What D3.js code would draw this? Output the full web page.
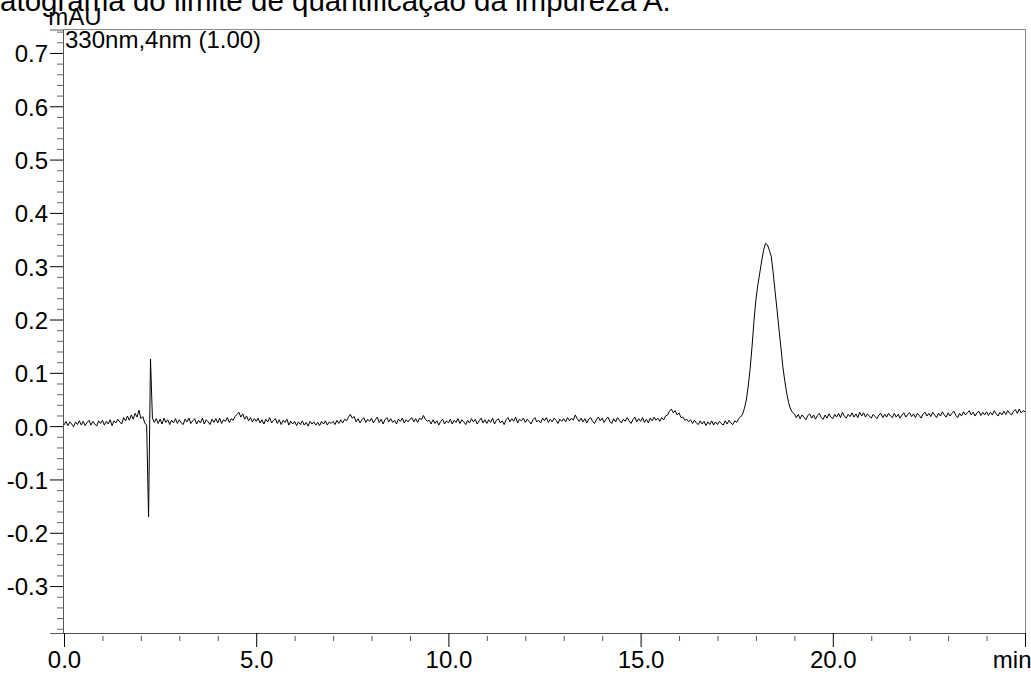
<!DOCTYPE html>
<html>
<head>
<meta charset="utf-8">
<script src="https://cdn.jsdelivr.net/npm/d3@7"></script>
<style>
  body { margin: 0; background: #fff; }
  svg { display: block; }
  text { font-family: "Liberation Sans", Arial, Helvetica, sans-serif; fill: #000; }
</style>
</head>
<body>
<svg id="chart" width="1031" height="675"></svg>
<script>
// Chromatogram: impurity A at its limit of quantification, 330 nm detection
const titleText = "Cromatograma do limite de quantificação da impureza A.";
const yUnitLabel = "mAU";
const xUnitLabel = "min";
const channelLabel = "330nm,4nm (1.00)";

const xMajorTicks = [0, 5, 10, 15, 20, 25];
const yMajorTicks = [-0.3, -0.2, -0.1, 0.0, 0.1, 0.2, 0.3, 0.4, 0.5, 0.6, 0.7];

// detector sampling: one reading every 0.05 min starting at 0.00 min
const sampleStart = 0;
const sampleStep = 0.05;

// absorbance readings (mAU), 0.00 – 25.00 min, ten readings per row
const absorbance = [
  0.002,0.009,0.001,0.008,0.004,-0.001,0.008,0.003,0.010,0.002,
  0.009,0.001,0.007,0.011,0.002,0.009,0.004,0.000,0.010,0.005,
  0.011,0.002,0.009,0.004,0.012,0.001,0.010,0.006,0.013,0.008,
  0.004,0.016,0.010,0.019,0.011,0.021,0.013,0.024,0.017,0.030,
  0.014,0.018,0.006,0.002,-0.170,0.126,0.015,0.007,0.014,0.005,
  0.013,0.004,0.015,0.007,0.012,0.003,0.011,0.006,0.014,0.005,
  0.012,0.006,0.003,0.013,0.008,0.015,0.005,0.010,0.014,0.004,
  0.011,0.006,0.015,0.004,0.012,0.008,0.003,0.013,0.007,0.014,
  0.006,0.015,0.005,0.012,0.009,0.016,0.007,0.014,0.011,0.018,
  0.022,0.026,0.017,0.023,0.013,0.019,0.010,0.016,0.008,0.014,
  0.009,0.015,0.006,0.012,0.004,0.013,0.008,0.016,0.006,0.011,
  0.014,0.005,0.012,0.003,0.011,0.007,0.013,0.002,0.009,0.004,
  0.009,0.001,0.008,0.003,0.010,0.002,0.007,0.000,0.009,0.004,
  0.008,0.002,0.007,0.001,0.009,0.004,0.010,0.002,0.008,0.005,
  0.009,0.003,0.011,0.005,0.012,0.006,0.013,0.010,0.017,0.022,
  0.015,0.018,0.008,0.014,0.006,0.012,0.016,0.007,0.013,0.009,
  0.015,0.006,0.012,0.017,0.007,0.013,0.004,0.012,0.016,0.008,
  0.014,0.007,0.011,0.004,0.013,0.009,0.015,0.006,0.012,0.008,
  0.013,0.016,0.008,0.014,0.007,0.015,0.012,0.020,0.013,0.009,
  0.011,0.004,0.012,0.005,0.010,0.002,0.009,0.013,0.004,0.010,
  0.006,0.013,0.004,0.011,0.007,0.014,0.005,0.012,0.008,0.003,
  0.011,0.006,0.014,0.008,0.013,0.004,0.010,0.015,0.006,0.012,
  0.005,0.012,0.007,0.015,0.004,0.011,0.014,0.006,0.010,0.003,
  0.012,0.016,0.008,0.014,0.009,0.017,0.006,0.013,0.010,0.015,
  0.007,0.013,0.009,0.004,0.012,0.016,0.008,0.011,0.006,0.015,
  0.010,0.016,0.007,0.013,0.008,0.015,0.011,0.005,0.013,0.009,
  0.014,0.008,0.016,0.010,0.015,0.011,0.021,0.014,0.009,0.015,
  0.008,0.014,0.006,0.013,0.016,0.009,0.005,0.012,0.017,0.010,
  0.015,0.007,0.013,0.017,0.009,0.005,0.014,0.008,0.016,0.011,
  0.006,0.013,0.009,0.016,0.010,0.005,0.012,0.017,0.008,0.014,
  0.009,0.016,0.007,0.013,0.006,0.015,0.010,0.017,0.011,0.015,
  0.009,0.016,0.012,0.019,0.021,0.028,0.032,0.025,0.029,0.021,
  0.025,0.016,0.017,0.011,0.013,0.008,0.012,0.005,0.011,0.006,
  0.003,0.010,0.004,0.009,0.001,0.008,0.003,0.010,0.002,0.008,
  0.003,0.009,0.005,0.002,0.010,0.004,0.011,0.006,0.003,0.010,
  0.007,0.014,0.017,0.022,0.033,0.049,0.075,0.108,0.150,0.198,
  0.237,0.265,0.287,0.310,0.330,0.343,0.340,0.330,0.318,0.287,
  0.252,0.218,0.182,0.148,0.112,0.085,0.062,0.044,0.032,0.026,
  0.023,0.016,0.022,0.014,0.021,0.017,0.012,0.020,0.023,0.015,
  0.021,0.013,0.020,0.024,0.016,0.013,0.021,0.015,0.023,0.017,
  0.014,0.022,0.017,0.024,0.016,0.026,0.019,0.015,0.022,0.018,
  0.025,0.017,0.023,0.016,0.026,0.019,0.025,0.017,0.023,0.019,
  0.015,0.022,0.018,0.014,0.021,0.024,0.016,0.022,0.017,0.024,
  0.019,0.016,0.024,0.017,0.022,0.015,0.021,0.025,0.017,0.022,
  0.025,0.018,0.023,0.016,0.024,0.020,0.015,0.023,0.026,0.019,
  0.024,0.018,0.026,0.021,0.016,0.024,0.019,0.027,0.021,0.017,
  0.025,0.019,0.024,0.028,0.020,0.016,0.024,0.019,0.027,0.021,
  0.025,0.029,0.021,0.026,0.019,0.025,0.028,0.020,0.026,0.021,
  0.027,0.020,0.026,0.021,0.029,0.023,0.019,0.026,0.021,0.028,
  0.022,0.029,0.024,0.021,0.028,0.031,0.024,0.032,0.025,0.029,
  0.027
];

const series = absorbance.map((v, i) => ({ t: sampleStart + i * sampleStep, v }));

const svg = d3.select("#chart");
const fontSize = 24;

const plot = { left: 63, top: 29, right: 1025, bottom: 633 };

const x = d3.scaleLinear().domain([0, 25]).range([plot.left + 1, plot.right]);
const y = d3.scaleLinear().domain([-0.388, 0.744]).range([plot.bottom, plot.top + 0.5]);

// title (runs off the left edge of the page)
svg.append("text")
  .attr("x", -72).attr("y", 11)
  .style("font-size", "29.5px")
  .text(titleText);

// frame
svg.append("rect")
  .attr("x", plot.left + 0.5).attr("y", plot.top + 0.5)
  .attr("width", plot.right - plot.left).attr("height", plot.bottom - plot.top)
  .attr("fill", "none").attr("stroke", "#8a8a8a").attr("stroke-width", 1);

// x axis: minor ticks every minute
const xMinor = svg.append("g")
  .attr("transform", `translate(0,${plot.bottom})`)
  .call(d3.axisBottom(x).tickValues(d3.range(0, 26, 1).filter(d => d % 5 !== 0))
    .tickSize(8).tickFormat(""));
xMinor.select(".domain").remove();
xMinor.selectAll(".tick line").attr("y1", 3).attr("stroke", "#555");

// x axis: major ticks with labels
const xMajor = svg.append("g")
  .attr("transform", `translate(0,${plot.bottom})`)
  .call(d3.axisBottom(x).tickValues(xMajorTicks).tickSize(14).tickPadding(4)
    .tickFormat(d => d === 25 ? xUnitLabel : d.toFixed(1)));
xMajor.select(".domain").attr("stroke", "#555");
xMajor.selectAll(".tick line").attr("stroke", "#000");
xMajor.selectAll(".tick text").style("font-size", fontSize + "px")
  .attr("font-family", null);
xMajor.selectAll(".tick").filter(d => d === 25).select("text")
  .attr("text-anchor", "end").attr("x", 6);

// y axis: minor ticks every 0.02
const yMinor = svg.append("g")
  .attr("transform", `translate(${plot.left},0)`)
  .call(d3.axisLeft(y).tickValues(d3.range(-19, 38, 1).map(k => k * 0.02).filter(d => Math.abs(Math.round(d * 50)) % 5 !== 0))
    .tickSize(6).tickFormat(""));
yMinor.select(".domain").remove();
yMinor.selectAll(".tick line").attr("stroke", "#666");

// y axis: major ticks with labels
const yMajor = svg.append("g")
  .attr("transform", `translate(${plot.left},0)`)
  .call(d3.axisLeft(y).tickValues(yMajorTicks).tickSize(13).tickPadding(2)
    .tickFormat(d => d.toFixed(1)));
yMajor.select(".domain").attr("stroke", "#555");
yMajor.selectAll(".tick line").attr("stroke", "#000");
yMajor.selectAll(".tick text").style("font-size", fontSize + "px")
  .attr("font-family", null).attr("dy", "0.37em");

// unit and channel labels
svg.append("text")
  .attr("x", 75).attr("y", 25).attr("text-anchor", "middle")
  .style("font-size", fontSize + "px")
  .text(yUnitLabel);

svg.append("text")
  .attr("x", 65).attr("y", 48)
  .style("font-size", fontSize + "px")
  .text(channelLabel);

// detector trace
const line = d3.line().x(d => x(d.t)).y(d => y(d.v));
svg.append("path")
  .datum(series)
  .attr("fill", "none")
  .attr("stroke", "#000")
  .attr("stroke-width", 1)
  .attr("stroke-linejoin", "round")
  .attr("d", line);
</script>
</body>
</html>
